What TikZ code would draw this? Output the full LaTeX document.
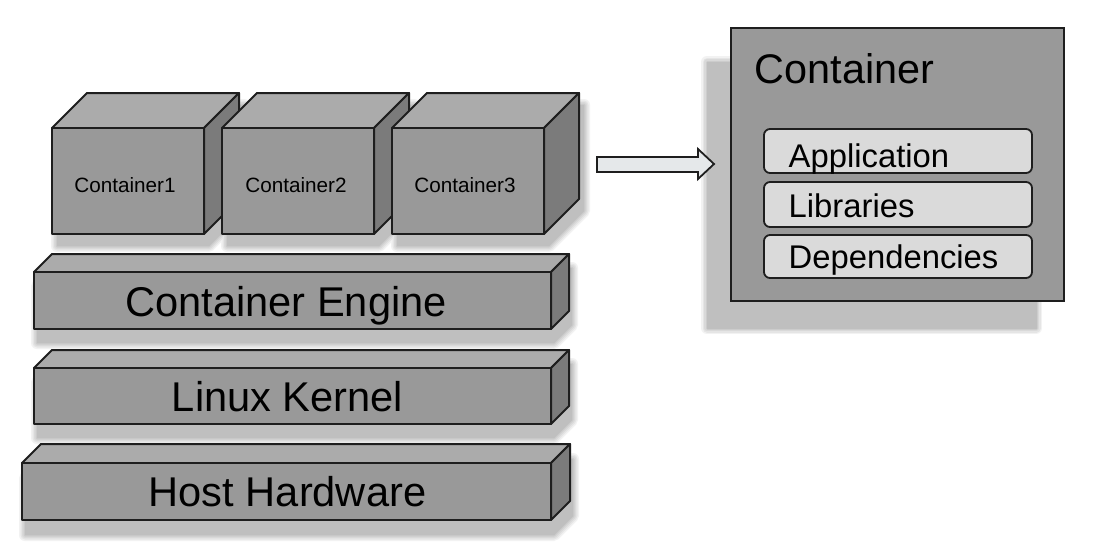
\documentclass[tikz,border=0pt]{standalone}
\usepackage{fontspec}
\setmainfont{Liberation Sans}
\definecolor{frontc}{HTML}{999999}
\definecolor{topc}{HTML}{ABABAB}
\definecolor{sidec}{HTML}{7B7B7B}
\definecolor{innerc}{HTML}{DADADA}
\definecolor{arrowc}{HTML}{E5E8EA}
\definecolor{linec}{HTML}{1E1E1E}
\tikzset{
  boxline/.style={draw=linec, line width=2pt, line join=round},
  innerbox/.style={draw=linec, line width=1.8pt, fill=innerc, rounded corners=6pt, inner sep=0pt},
  biglabel/.style={font=\fontsize{41.6}{42}\selectfont, anchor=base, inner sep=0pt},
  midlabel/.style={font=\fontsize{32.8}{33}\selectfont, anchor=base west, inner sep=0pt},
  smalllabel/.style={font=\fontsize{20.7}{21}\selectfont, anchor=base, inner sep=0pt},
}
% cuboid: front face x1,y1 (top) to x2,y2 (bottom), depth d
\newcommand{\drawcuboid}[5]{%
  \filldraw[boxline, fill=topc] (#1,#2) -- (#1+#5,#2-#5) -- (#3+#5,#2-#5) -- (#3,#2) -- cycle;
  \filldraw[boxline, fill=sidec] (#3,#2) -- (#3+#5,#2-#5) -- (#3+#5,#4-#5) -- (#3,#4) -- cycle;
  \filldraw[boxline, fill=frontc] (#1,#2) rectangle (#3,#4);
}
% shadow outline of a cuboid, shifted by (#6,#7)
\newcommand{\hexshadow}[7]{%
  \begin{scope}[shift={(#6,#7)}]
  \filldraw (#1,#2) -- (#1+#5,#2-#5) -- (#3+#5,#2-#5) -- (#3+#5,#4-#5) -- (#3,#4) -- (#1,#4) -- cycle;
  \end{scope}
}
\begin{document}
\begin{tikzpicture}[x=1pt,y=-1pt]
\useasboundingbox (0,0) rectangle (1094,542);
\fill[white] (0,0) rectangle (1094,542);

% blurred shadows (layered)
\foreach \w/\c in {12/5,9/10,6/15,3/20,0.1/25}{
  \begin{scope}[fill=black!\c, draw=black!\c, line width=\w pt, line join=round]
    \hexshadow{52}{128}{204}{234}{35}{5}{12}
    \hexshadow{222}{128}{374}{234}{35}{5}{12}
    \hexshadow{392}{128}{544}{234}{35}{5}{12}
    \hexshadow{34}{272}{551}{329}{18}{3}{14}
    \hexshadow{34}{368}{551}{424}{18}{3}{14}
    \hexshadow{22}{463}{551}{520}{19}{3}{15}
    \filldraw (707,62) rectangle (1036,328);
  \end{scope}
}

% container cubes
\drawcuboid{52}{128}{204}{234}{35}
\drawcuboid{222}{128}{374}{234}{35}
\drawcuboid{392}{128}{544}{234}{35}
\node[smalllabel] (c1) at (125,192) {Container1};
\node[smalllabel] (c2) at (296,192) {Container2};
\node[smalllabel] (c3) at (465,192) {Container3};

% layers
\drawcuboid{34}{272}{551}{329}{18}
\drawcuboid{34}{368}{551}{424}{18}
\drawcuboid{22}{463}{551}{520}{19}
\node[biglabel] (engine) at (286,316) {Container Engine};
\node[biglabel] (kernel) at (287.5,411) {Linux Kernel};
\node[biglabel] (hw) at (287.5,506) {Host Hardware};

% block arrow
\filldraw[draw=linec, line width=1.8pt, line join=miter, fill=arrowc]
  (597,157) -- (698,157) -- (698,149) -- (714,164) -- (698,179) -- (698,172) -- (597,172) -- cycle;

% container detail box
\node[draw=linec, line width=2pt, fill=frontc, minimum width=333, minimum height=273, inner sep=0pt] (cbox) at (897.5,164.5) {};
\node[font=\fontsize{41.4}{41}\selectfont, anchor=base west, inner sep=0pt] (ctitle) at (754.5,83) {Container};
\node[innerbox, minimum width=268, minimum height=44] (app) at (898,151) {};
\node[innerbox, minimum width=268, minimum height=45] (lib) at (898,204.5) {};
\node[innerbox, minimum width=268, minimum height=43] (dep) at (898,256.5) {};
\node[midlabel] (apptext) at (788.5,167) {Application};
\node[midlabel] (libtext) at (788.5,217) {Libraries};
\node[midlabel] (deptext) at (788.5,268) {Dependencies};
\end{tikzpicture}
\end{document}
